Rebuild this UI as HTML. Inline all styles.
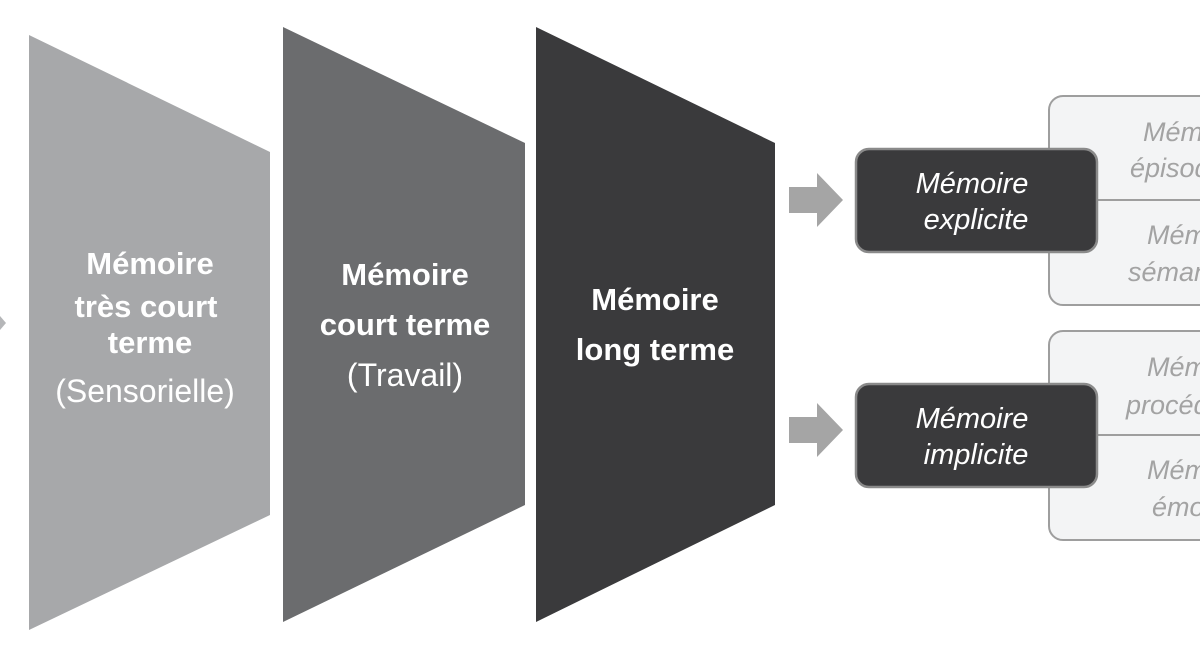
<!DOCTYPE html>
<html><head><meta charset="utf-8"><style>
html,body{margin:0;padding:0;background:#fff;width:1200px;height:652px;overflow:hidden}
svg{display:block}
text{font-family:"Liberation Sans","DejaVu Sans",sans-serif}
</style></head><body>
<svg width="1200" height="652" viewBox="0 0 1200 652">
<polygon points="0,316 6,323 0,330" fill="#b5b6b8"/>
<polygon points="29,35 270,152 270,515 29,630" fill="#a7a8aa"/>
<polygon points="283,27 525,143 525,505 283,622" fill="#6b6c6e"/>
<polygon points="536,27 775,143 775,505 536,622" fill="#3a3a3c"/>
<g fill="#fff" text-anchor="middle" font-size="31">
<text x="150" y="274" font-weight="bold">Mémoire</text>
<text x="146" y="317" font-weight="bold">très court</text>
<text x="150" y="353" font-weight="bold">terme</text>
<text x="145" y="402" font-size="32">(Sensorielle)</text>
<text x="405" y="285" font-weight="bold">Mémoire</text>
<text x="405" y="335" font-weight="bold">court terme</text>
<text x="405" y="386" font-size="32">(Travail)</text>
<text x="655" y="310" font-weight="bold">Mémoire</text>
<text x="655" y="360" font-weight="bold">long terme</text>
</g>
<polygon points="789,187 817,187 817,173 843,200 817,227 817,213 789,213" fill="#a5a5a5"/>
<polygon points="789,417 817,417 817,403 843,430 817,457 817,443 789,443" fill="#a5a5a5"/>
<rect x="1049" y="96" width="170" height="209" rx="14" fill="#f3f4f5" stroke="#9e9e9e" stroke-width="2"/>
<line x1="1096" y1="200" x2="1200" y2="200" stroke="#9e9e9e" stroke-width="2"/>
<rect x="1049" y="331" width="170" height="209" rx="14" fill="#f3f4f5" stroke="#9e9e9e" stroke-width="2"/>
<line x1="1096" y1="435" x2="1200" y2="435" stroke="#9e9e9e" stroke-width="2"/>
<g fill="#a3a3a3" font-style="italic" font-size="27">
<text x="1143" y="141">Mémoire</text>
<text x="1130" y="177">épisodique</text>
<text x="1147" y="244">Mémoire</text>
<text x="1128" y="281">sémantique</text>
<text x="1147" y="376">Mémoire</text>
<text x="1126" y="414">procédurale</text>
<text x="1147" y="479">Mémoire</text>
<text x="1152" y="516">émotionnelle</text>
</g>
<rect x="856" y="149" width="241" height="103" rx="13" fill="#3a3a3c" stroke="#8a8a8a" stroke-width="2.5"/>
<rect x="856" y="384" width="241" height="103" rx="13" fill="#3a3a3c" stroke="#8a8a8a" stroke-width="2.5"/>
<g fill="#fff" font-style="italic" font-size="29" text-anchor="middle">
<text x="972" y="193">Mémoire</text>
<text x="976" y="229">explicite</text>
<text x="972" y="428">Mémoire</text>
<text x="976" y="464">implicite</text>
</g>
</svg>
</body></html>
